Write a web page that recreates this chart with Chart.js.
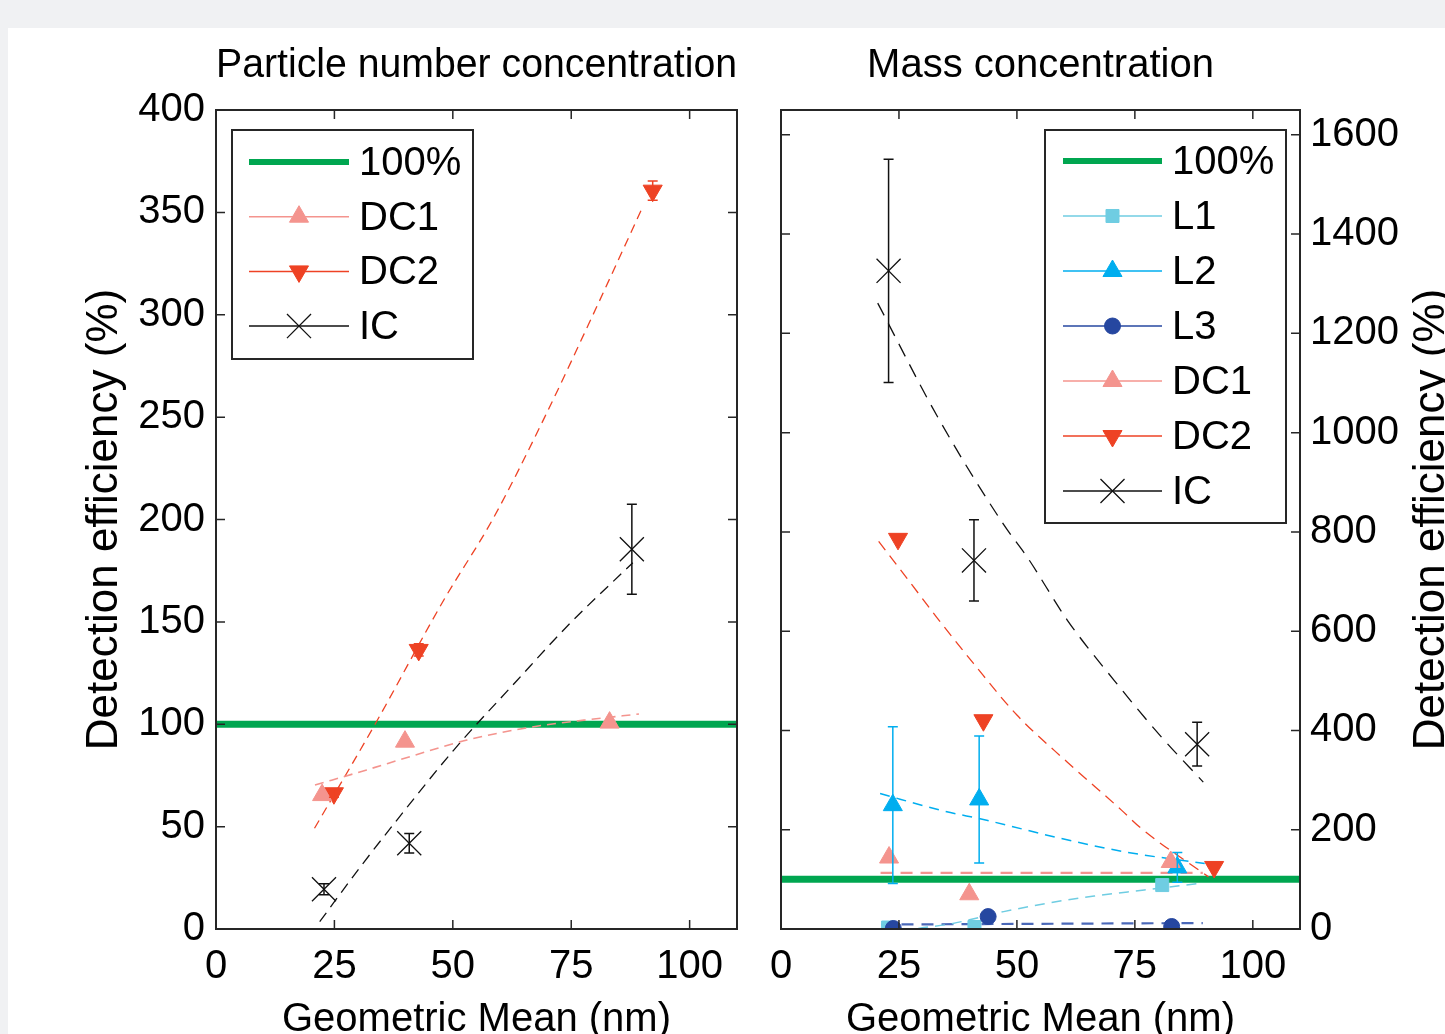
<!DOCTYPE html>
<html>
<head>
<meta charset="utf-8">
<script src="https://cdn.jsdelivr.net/npm/chart.js"></script>
<style>
  html, body { margin: 0; padding: 0; overflow: hidden; background: #f0f1f3; }
  #sheet { position: absolute; left: 8px; top: 28px; width: 1437px; height: 1006px; background: #fff; }
  canvas { position: absolute; top: 28px; }
  #numChart { left: 8px; }
  #massChart { left: 760px; }
</style>
</head>
<body>
<div id="sheet"></div>
<canvas id="numChart" width="752" height="1006"></canvas>
<canvas id="massChart" width="685" height="1006"></canvas>
<script>
"use strict";

// tick values
const xTicks = [0, 25, 50, 75, 100];
const numYTicks = [0, 50, 100, 150, 200, 250, 300, 350, 400];
const massYTicks = [0, 200, 400, 600, 800, 1000, 1200, 1400, 1600];

// 100% reference line
const refX = [0, 110];
const refY = [100, 100];

// particle number concentration
const numDC1x = [22.4, 39.9, 83.1];
const numDC1y = [65.4, 91.5, 100.8];
const numDC2x = [24.9, 42.8, 92.2];
const numDC2y = [66.3, 136.3, 360.6];
const numDC2err = [2, 3, 4.7];
const numICx = [22.8, 40.8, 87.8];
const numICy = [19.4, 41.9, 185.5];
const numICerr = [2.7, 4.8, 22];

const numDC1fitX = [20.9, 31.8, 41.0, 53.0, 67.1, 77.7, 89.3];
const numDC1fitY = [70.3, 77.7, 84.2, 92.3, 98.8, 102, 105];
const numDC2fitX = [20.8, 33.7, 48.1, 58.4, 69.4, 79.4, 90.1];
const numDC2fitY = [49.2, 100.5, 160.7, 200, 250, 299, 352.7];
const numICfitX = [21.9, 30.5, 38.2, 50.2, 63.6, 74.2, 88];
const numICfitY = [3.6, 30.4, 53.2, 87.4, 121.5, 148, 178.9];

// mass concentration
const massL1x = [22.7, 41.0, 80.8];
const massL1y = [3, 4, 88.5];
const massL2x = [23.7, 42.0, 84.0];
const massL2y = [249.5, 261, 124];
const massL2err = [158, 128, 30];
const massL3x = [23.8, 43.9, 82.8];
const massL3y = [1, 25, 5];
const massDC1x = [22.9, 39.9, 82.6];
const massDC1y = [144, 70, 135];
const massDC2x = [24.8, 42.9, 91.8];
const massDC2y = [786, 420.6, 125];
const massICx = [22.8, 40.9, 88.2];
const massICy = [1326, 742.6, 372.3];
const massICerr = [225, 82, 44];

const massL1fitX = [22, 29.4, 35.8, 47.2, 56.4, 66.4, 77, 88.8];
const massL1fitY = [-12, 1.4, 10, 35, 51.9, 66.4, 78.5, 92];
const massL2fitX = [21, 33.7, 43.6, 59.3, 73.5, 89.8];
const massL2fitY = [273, 239.5, 219, 182.5, 154.4, 132];
const massL3fitX = [21.3, 89.4];
const massL3fitY = [9, 12];
const massDC1fitX = [21.1, 89.4];
const massDC1fitY = [113, 113];
const massDC2fitX = [20.7, 27.3, 33, 40.8, 50, 60.7, 72.1, 76.3, 90.6];
const massDC2fitY = [781, 699, 628, 535, 431, 336, 240, 203, 105];
const massICfitX = [20.5, 33, 47.1, 52.2, 60.7, 70.6, 80.6, 89.5];
const massICfitY = [1261, 1035, 816, 749, 622, 501, 387, 296];

const GREEN = "#00a650";
const PINK = "#f4948e";
const RED = "#ee4224";
const BLACK = "#111111";
const L1C = "#6fcde2";
const L2C = "#00aeef";
const L3C = "#2647a0";

const FONT = '"Liberation Sans", Arial, sans-serif';
Chart.defaults.font.family = FONT;
Chart.defaults.color = "#000";

function toPoints(xs, ys) {
    return xs.map((x, i) => ({ x: x, y: ys[i] }));
}

function refSet() {
    return {
        label: "100%", data: toPoints(refX, refY), showLine: true, inLegend: true,
        borderColor: GREEN, borderWidth: 7, legendWidth: 6, pointRadius: 0, order: 5,
    };
}

function markerSet(label, xs, ys, color, style, radius, opts) {
    return Object.assign({
        label: label, data: toPoints(xs, ys), showLine: false, inLegend: true,
        borderColor: color, pointStyle: style, pointRadius: radius,
        pointBackgroundColor: color, pointBorderColor: color, pointBorderWidth: 1,
        pointRotation: 0, order: 1,
    }, opts || {});
}

function fitSet(xs, ys, color, width, dash) {
    return {
        label: "", data: toPoints(xs, ys), showLine: true, inLegend: false,
        cubicInterpolationMode: "monotone",
        borderColor: color, borderWidth: width, borderDash: dash, pointRadius: 0, order: 3,
    };
}

const errorBars = {
    id: "errorBars",
    afterDatasetsDraw(chart) {
        const { ctx, scales: { x, y } } = chart;
        chart.data.datasets.forEach((ds) => {
            if (!ds.errors) return;
            ctx.save();
            ctx.strokeStyle = ds.borderColor;
            ctx.lineWidth = 1.5;
            ds.data.forEach((p, j) => {
                const e = ds.errors[j];
                if (!e) return;
                const px = x.getPixelForValue(p.x);
                const top = y.getPixelForValue(p.y + e);
                const bot = y.getPixelForValue(p.y - e);
                ctx.beginPath();
                ctx.moveTo(px, top); ctx.lineTo(px, bot);
                ctx.moveTo(px - 5, top); ctx.lineTo(px + 5, top);
                ctx.moveTo(px - 5, bot); ctx.lineTo(px + 5, bot);
                ctx.stroke();
            });
            ctx.restore();
        });
    },
};

// box around the plot with inward ticks on all four sides
const frameTicks = {
    id: "frameTicks",
    afterDatasetsDraw(chart) {
        const { ctx, chartArea: a, scales } = chart;
        ctx.save();
        ctx.strokeStyle = "#262626";
        ctx.lineWidth = 2;
        ctx.strokeRect(a.left, a.top, a.right - a.left, a.bottom - a.top);
        ctx.lineWidth = 1.5;
        ctx.beginPath();
        scales.x.ticks.forEach((t) => {
            const px = scales.x.getPixelForValue(t.value);
            ctx.moveTo(px, a.bottom); ctx.lineTo(px, a.bottom - 9);
            ctx.moveTo(px, a.top); ctx.lineTo(px, a.top + 9);
        });
        scales.y.ticks.forEach((t) => {
            const py = scales.y.getPixelForValue(t.value);
            ctx.moveTo(a.left, py); ctx.lineTo(a.left + 9, py);
            ctx.moveTo(a.right, py); ctx.lineTo(a.right - 9, py);
        });
        ctx.stroke();
        ctx.restore();
    },
};

const boxLegend = {
    id: "boxLegend",
    afterDraw(chart, args, opts) {
        const { ctx } = chart;
        const b = opts.box;
        ctx.save();
        ctx.fillStyle = "#fff";
        ctx.fillRect(b.x, b.y, b.w, b.h);
        ctx.strokeStyle = "#262626";
        ctx.lineWidth = 2;
        ctx.strokeRect(b.x, b.y, b.w, b.h);
        ctx.font = "40px " + FONT;
        ctx.textBaseline = "middle";
        ctx.textAlign = "left";
        chart.data.datasets.filter((ds) => ds.inLegend).forEach((ds, i) => {
            const ry = b.y + opts.firstRow + i * opts.rowStep;
            const x0 = b.x + opts.lineStart;
            const x1 = x0 + opts.lineLen;
            ctx.setLineDash([]);
            ctx.strokeStyle = ds.borderColor;
            ctx.lineWidth = ds.legendWidth || 1.5;
            ctx.beginPath();
            ctx.moveTo(x0, ry); ctx.lineTo(x1, ry);
            ctx.stroke();
            if (ds.pointRadius) {
                ctx.fillStyle = ds.pointBackgroundColor;
                ctx.strokeStyle = ds.pointBorderColor;
                ctx.lineWidth = ds.pointBorderWidth;
                Chart.helpers.drawPoint(ctx, {
                    pointStyle: ds.pointStyle, rotation: ds.pointRotation,
                    radius: ds.pointRadius, borderWidth: ds.pointBorderWidth,
                }, (x0 + x1) / 2, ry);
            }
            ctx.fillStyle = "#000";
            ctx.fillText(ds.label, x1 + 10, ry + 2);
        });
        ctx.restore();
    },
};

// rotated axis label on the right side, reading bottom to top
const sideTitle = {
    id: "sideTitle",
    afterDraw(chart, args, opts) {
        if (!opts.text) return;
        const { ctx, chartArea: a } = chart;
        ctx.save();
        ctx.translate(opts.x, (a.top + a.bottom) / 2);
        ctx.rotate(-Math.PI / 2);
        ctx.font = "44px " + FONT;
        ctx.fillStyle = "#000";
        ctx.textAlign = "center";
        ctx.textBaseline = "middle";
        ctx.fillText(opts.text, 0, 0);
        ctx.restore();
    },
};

function xScale() {
    return {
        type: "linear", position: "bottom", min: 0, max: 110,
        afterBuildTicks: (s) => { s.ticks = xTicks.map((v) => ({ value: v })); },
        afterFit: (s) => { s.height = 105; },
        grid: { display: false }, border: { display: false },
        ticks: { font: { size: 40 }, padding: 6, color: "#000", maxRotation: 0, autoSkip: false },
        title: { display: true, text: "Geometric Mean (nm)", font: { size: 40 }, color: "#000", padding: { top: 0, bottom: -10 } },
    };
}

function panelTitle(text) {
    return {
        display: true, text: text, fullSize: false, color: "#000",
        font: { size: 40, weight: "normal" }, padding: { top: 14, bottom: 20 },
    };
}

new Chart(document.getElementById("numChart"), {
    type: "scatter",
    data: {
        datasets: [
            refSet(),
            markerSet("DC1", numDC1x, numDC1y, PINK, "triangle", 11),
            markerSet("DC2", numDC2x, numDC2y, RED, "triangle", 11, { pointRotation: 180, errors: numDC2err }),
            markerSet("IC", numICx, numICy, BLACK, "crossRot", 17, { pointBorderWidth: 1.3, errors: numICerr }),
            fitSet(numDC1fitX, numDC1fitY, PINK, 1.6, [9, 6]),
            fitSet(numDC2fitX, numDC2fitY, RED, 1.3, [9, 6]),
            fitSet(numICfitX, numICfitY, BLACK, 1.3, [11, 7]),
        ],
    },
    options: {
        responsive: false,
        animation: false,
        events: [],
        layout: { padding: { left: 0, right: 23, top: 0, bottom: 0 } },
        plugins: {
            legend: { display: false },
            tooltip: { enabled: false },
            title: panelTitle("Particle number concentration"),
            boxLegend: { box: { x: 224, y: 102, w: 241, h: 229 }, firstRow: 32, rowStep: 54.7, lineStart: 17, lineLen: 100 },
        },
        scales: {
            x: xScale(),
            y: {
                type: "linear", position: "left", min: 0, max: 400,
                afterBuildTicks: (s) => { s.ticks = numYTicks.map((v) => ({ value: v })); },
                afterFit: (s) => { s.width = 208; },
                grid: { display: false }, border: { display: false },
                ticks: { font: { size: 40 }, padding: 3, color: "#000", callback: (v) => String(v) },
                title: { display: true, text: "Detection efficiency (%)", font: { size: 44 }, color: "#000", padding: { top: 70, bottom: 0 } },
            },
        },
    },
    plugins: [errorBars, frameTicks, boxLegend],
});

new Chart(document.getElementById("massChart"), {
    type: "scatter",
    data: {
        datasets: [
            refSet(),
            markerSet("L1", massL1x, massL1y, L1C, "rect", 9.2, { order: 1.4 }),
            markerSet("L2", massL2x, massL2y, L2C, "triangle", 11, { order: 1.2, errors: massL2err }),
            markerSet("L3", massL3x, massL3y, L3C, "circle", 8, { order: 1.1 }),
            markerSet("DC1", massDC1x, massDC1y, PINK, "triangle", 11),
            markerSet("DC2", massDC2x, massDC2y, RED, "triangle", 11, { pointRotation: 180 }),
            markerSet("IC", massICx, massICy, BLACK, "crossRot", 17, { pointBorderWidth: 1.3, errors: massICerr }),
            fitSet(massL1fitX, massL1fitY, L1C, 1.5, [10, 7]),
            fitSet(massL2fitX, massL2fitY, L2C, 1.5, [10, 7]),
            fitSet(massL3fitX, massL3fitY, "#4a68b8", 2.2, [12, 8]),
            fitSet(massDC1fitX, massDC1fitY, PINK, 2.2, [12, 8]),
            fitSet(massDC2fitX, massDC2fitY, RED, 1.3, [11, 7]),
            fitSet(massICfitX, massICfitY, BLACK, 1.3, [14, 9]),
        ],
    },
    options: {
        responsive: false,
        animation: false,
        events: [],
        layout: { padding: { left: 21, right: 0, top: 0, bottom: 0 } },
        plugins: {
            legend: { display: false },
            tooltip: { enabled: false },
            title: panelTitle("Mass concentration"),
            boxLegend: { box: { x: 285, y: 102, w: 241, h: 393 }, firstRow: 31, rowStep: 55, lineStart: 18, lineLen: 99 },
            sideTitle: { text: "Detection efficiency (%)", x: 672 },
        },
        scales: {
            x: xScale(),
            y: {
                type: "linear", position: "right", min: 0, max: 1650,
                afterBuildTicks: (s) => { s.ticks = massYTicks.map((v) => ({ value: v })); },
                afterFit: (s) => { s.width = 145; },
                grid: { display: false }, border: { display: false },
                ticks: { font: { size: 40 }, padding: 2, color: "#000", callback: (v) => String(v) },
            },
        },
    },
    plugins: [errorBars, frameTicks, boxLegend, sideTitle],
});
</script>
</body>
</html>
